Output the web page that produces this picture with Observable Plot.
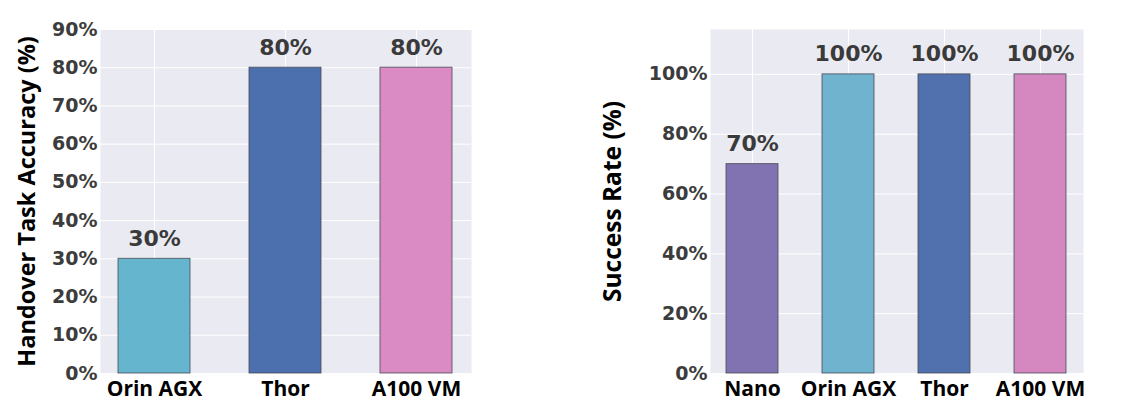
<!DOCTYPE html>
<html>
<head>
<meta charset="utf-8">
<script src="https://cdn.jsdelivr.net/npm/d3@7"></script>
<script src="https://cdn.jsdelivr.net/npm/@observablehq/plot@0.6"></script>
<style>
  html, body { margin: 0; padding: 0; background: #ffffff; }
  #wrap { position: relative; width: 1143px; height: 412px; overflow: hidden; }
  #left { position: absolute; left: 0; top: 0; }
  #right { position: absolute; left: 580px; top: 0; }
</style>
</head>
<body>
<div id="wrap"><div id="left"></div><div id="right"></div></div>
<script>
// Left panel data
const leftDevices = ["Orin AGX", "Thor", "A100 VM"];
const leftAccuracy = [30, 80, 80];
const leftColors = ["#64b5cd", "#4c70ae", "#da8bc3"];
const leftTicks = [0, 10, 20, 30, 40, 50, 60, 70, 80, 90];
const leftTitle = "Handover Task Accuracy (%)";

// Right panel data
const rightDevices = ["Nano", "Orin AGX", "Thor", "A100 VM"];
const rightSuccess = [70, 100, 100, 100];
const rightColors = ["#8172b2", "#6fb3cf", "#5170ae", "#d588c0"];
const rightTicks = [0, 20, 40, 60, 80, 100];
const rightTitle = "Success Rate (%)";

function panel({devices, values, colors, ticks, title, yMax, width, marginLeft, marginRight, titleOffset, titleSize, pi, po}) {
  const data = devices.map((d, i) => ({device: d, value: values[i]}));
  const tickFont = "DejaVu Sans, sans-serif";
  const titleFont = "Open Sans, sans-serif";
  return Plot.plot({
    width, height: 412,
    marginLeft, marginRight, marginTop: 29, marginBottom: 39,
    style: {background: "transparent", overflow: "visible"},
    x: {type: "band", domain: devices, paddingInner: pi, paddingOuter: po},
    y: {domain: [0, yMax]},
    color: {type: "ordinal", domain: devices, range: colors},
    marks: [
      Plot.frame({fill: "#eaeaf2", stroke: null}),
      Plot.ruleY(ticks, {stroke: "#ffffff", strokeWidth: 1}),
      Plot.ruleX(devices, {x: d => d, stroke: "#ffffff", strokeWidth: 1}),
      Plot.barY(data, {x: "device", y: "value", fill: "device", stroke: "#4a4a55", strokeWidth: 1, strokeOpacity: 0.8}),
      Plot.text(data, {x: "device", y: "value", text: d => d.value + "%", dy: -20,
        fontFamily: tickFont, fontWeight: "bold", fontSize: 22, fill: "#3a3a3a"}),
      Plot.axisY({ticks, tickSize: 0, tickPadding: 3, tickFormat: d => d + "%", label: null,
        fontFamily: tickFont, fontWeight: "bold", fontSize: 19, fill: "#3c3c3c"}),
      Plot.axisY({ticks: [], tickSize: 0, label: title, labelAnchor: "center", labelArrow: "none",
        labelOffset: titleOffset, fontFamily: titleFont, fontWeight: "bold", fontSize: titleSize, fill: "#000000"}),
      Plot.axisX({tickSize: 0, tickPadding: 8, label: null,
        fontFamily: titleFont, fontWeight: "bold", fontSize: 21, fill: "#000000"})
    ]
  });
}

document.getElementById("left").append(panel({
  devices: leftDevices, values: leftAccuracy, colors: leftColors, ticks: leftTicks,
  title: leftTitle, yMax: 90, width: 560, marginLeft: 100, marginRight: 89,
  titleOffset: 82, titleSize: 23.5, pi: 0.447, po: 0.13
}));
document.getElementById("right").append(panel({
  devices: rightDevices, values: rightSuccess, colors: rightColors, ticks: rightTicks,
  title: rightTitle, yMax: 115, width: 563, marginLeft: 130, marginRight: 60,
  titleOffset: 107, titleSize: 24.5, pi: 0.454, po: 0.15
}));
</script>
</body>
</html>
